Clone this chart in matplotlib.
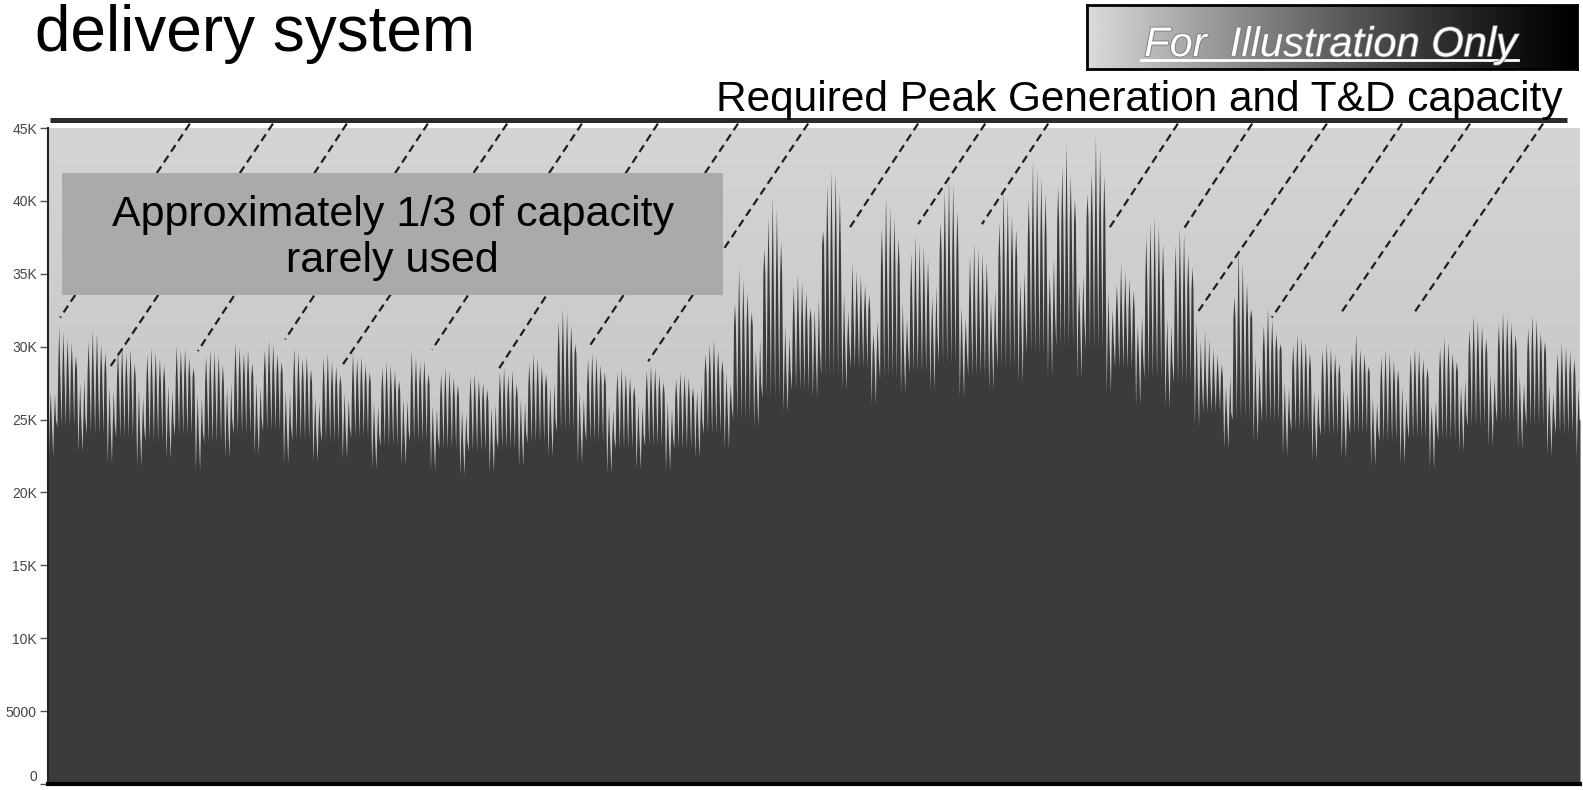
import numpy as np
import matplotlib
matplotlib.use("Agg")
import matplotlib.pyplot as plt
from matplotlib.patches import Rectangle
import matplotlib.patheffects as pe

plt.rcParams['font.family'] = ['Liberation Sans', 'DejaVu Sans']

# daily peak load (thousands), one row per week: 2 weekend days then 5 weekdays
day_peak_k = [
    [27.0, 26.8, 31.4, 31.1, 30.6, 30.3, 29.4],
    [27.5, 27.9, 30.4, 31.2, 31.0, 30.2, 29.6],
    [27.3, 27.0, 29.8, 30.1, 29.6, 29.9, 28.9],
    [27.1, 26.6, 29.5, 30.0, 29.7, 29.2, 28.8],
    [27.4, 27.0, 30.1, 29.8, 29.9, 29.3, 28.6],
    [26.8, 26.5, 29.4, 29.9, 29.7, 29.5, 28.8],
    [27.2, 27.5, 30.3, 30.0, 29.6, 29.8, 28.9],
    [27.6, 27.3, 29.8, 30.5, 30.2, 29.5, 29.0],
    [27.0, 26.9, 30.0, 29.7, 29.2, 29.4, 28.5],
    [26.6, 26.2, 29.3, 29.6, 29.0, 28.7, 28.1],
    [26.9, 26.5, 29.6, 29.2, 29.4, 28.8, 28.3],
    [26.3, 26.0, 28.6, 29.0, 28.8, 28.4, 27.7],
    [26.5, 26.4, 29.8, 29.3, 28.9, 29.1, 28.2],
    [26.0, 25.8, 28.2, 28.6, 28.4, 27.9, 27.4],
    [25.7, 25.5, 28.0, 28.2, 27.8, 27.6, 27.1],
    [25.9, 26.1, 28.3, 28.6, 28.1, 28.4, 27.5],
    [26.4, 26.2, 28.9, 29.6, 29.3, 28.7, 28.2],
    [27.3, 27.6, 31.8, 32.7, 32.4, 31.5, 30.2],
    [27.0, 26.5, 29.2, 29.6, 29.4, 28.8, 28.3],
    [26.1, 25.7, 28.3, 28.6, 28.2, 27.9, 27.3],
    [26.2, 26.0, 28.4, 28.8, 28.6, 28.1, 27.6],
    [26.3, 25.8, 27.8, 28.3, 28.1, 27.9, 27.2],
    [27.0, 27.4, 29.5, 30.2, 30.6, 29.8, 29.1],
    [28.2, 27.5, 33.0, 35.5, 34.6, 33.8, 32.4],
    [29.8, 30.5, 36.8, 38.9, 40.4, 39.5, 37.2],
    [31.5, 30.8, 34.2, 35.0, 34.5, 33.8, 32.7],
    [32.6, 33.4, 38.0, 41.2, 42.1, 42.0, 40.5],
    [33.8, 32.5, 35.8, 35.2, 34.9, 34.3, 33.6],
    [31.0, 31.8, 38.2, 40.4, 39.6, 38.9, 37.5],
    [33.0, 32.0, 36.5, 37.7, 37.2, 36.9, 36.0],
    [33.5, 34.2, 38.6, 40.8, 41.6, 41.2, 39.4],
    [32.8, 32.0, 36.3, 37.2, 36.8, 36.5, 35.9],
    [33.2, 34.0, 38.5, 40.9, 40.3, 39.0, 38.1],
    [34.5, 35.2, 40.1, 42.8, 42.3, 41.7, 40.6],
    [35.0, 36.2, 41.0, 42.5, 44.0, 41.8, 40.2],
    [34.4, 35.0, 40.5, 42.0, 44.5, 43.6, 41.8],
    [33.8, 32.6, 34.3, 35.8, 35.2, 34.7, 33.9],
    [31.5, 32.2, 37.6, 38.6, 39.0, 38.3, 37.1],
    [32.0, 31.5, 37.0, 38.2, 37.8, 36.4, 35.5],
    [31.8, 30.5, 31.2, 30.6, 29.9, 29.5, 28.8],
    [27.3, 28.0, 33.5, 37.0, 35.8, 34.4, 32.6],
    [29.5, 28.8, 31.5, 32.7, 31.9, 31.0, 30.2],
    [27.6, 27.2, 30.2, 31.0, 30.7, 30.4, 29.6],
    [27.0, 26.8, 29.8, 30.3, 30.0, 29.5, 28.9],
    [27.2, 26.9, 29.6, 31.0, 29.9, 29.5, 28.7],
    [26.5, 26.2, 29.4, 29.8, 29.6, 29.1, 28.5],
    [27.3, 26.4, 29.5, 30.0, 29.8, 29.2, 28.6],
    [26.0, 26.3, 30.0, 30.7, 30.4, 29.6, 29.0],
    [27.3, 27.8, 31.2, 32.2, 31.8, 31.5, 30.6],
    [28.2, 27.9, 31.6, 32.4, 32.1, 31.7, 30.9],
    [28.0, 27.5, 31.3, 32.2, 31.9, 31.0, 30.4],
    [27.4, 26.9, 29.6, 30.3, 30.0, 29.7, 29.2],
    [27.2],
]

# daytime shoulder level and night low per week (thousands)
shoulder_weekday = [28.5, 28.3, 27.8, 27.6, 27.9, 27.5, 28.0, 28.2, 27.6, 27.3,
                    27.5, 27.0, 27.4, 26.6, 26.3, 26.6, 27.3, 29.5, 27.4, 26.6,
                    26.8, 26.5, 28.2, 31.5, 35.0, 31.8, 37.0, 32.5, 35.5, 33.5,
                    36.5, 33.2, 36.0, 37.5, 38.5, 38.8, 32.5, 34.5, 34.0, 28.0,
                    32.0, 29.8, 28.5, 28.0, 28.2, 27.5, 27.8, 28.3, 29.5, 29.8,
                    29.6, 28.0, 28.0]
shoulder_weekend = [25.0, 25.2, 24.8, 24.5, 24.9, 24.3, 25.0, 25.1, 24.6, 24.4,
                    24.6, 24.0, 24.3, 23.9, 23.6, 23.8, 24.2, 25.0, 24.5, 23.8,
                    24.0, 23.9, 25.0, 26.0, 27.5, 28.5, 30.0, 30.5, 29.5, 30.0,
                    31.0, 30.0, 30.8, 32.0, 32.5, 32.0, 30.5, 29.5, 29.0, 28.0,
                    25.5, 26.5, 25.2, 24.8, 25.0, 24.4, 24.7, 24.5, 25.5, 26.0,
                    25.8, 25.2, 25.0]
low_weekday = [24.5, 24.0, 23.8, 23.5, 23.9, 23.4, 24.0, 24.2, 23.6, 23.5,
               23.8, 23.2, 23.5, 23.0, 22.8, 23.0, 23.4, 24.2, 23.5, 23.0,
               23.2, 23.0, 24.0, 25.0, 26.5, 27.0, 28.0, 28.5, 27.8, 28.2,
               28.8, 28.0, 28.5, 29.5, 30.0, 29.8, 28.5, 27.8, 27.5, 25.5,
               25.0, 24.8, 24.2, 23.9, 24.0, 23.5, 23.7, 23.6, 24.5, 24.8,
               24.6, 24.0, 24.0]
low_weekend = [22.5, 22.8, 22.0, 21.8, 22.3, 21.5, 22.4, 22.6, 22.0, 22.1,
               22.3, 21.6, 21.9, 21.5, 21.2, 21.4, 21.8, 22.5, 22.0, 21.3,
               21.6, 21.5, 22.4, 23.0, 24.5, 25.5, 26.5, 27.0, 26.0, 26.8,
               27.0, 26.5, 27.0, 27.5, 28.0, 27.8, 26.8, 26.0, 25.8, 24.5,
               23.0, 23.5, 22.5, 22.2, 22.3, 21.8, 22.0, 21.6, 22.8, 23.2,
               23.0, 22.5, 22.4]

# dashed pointer lines: top day on the capacity line, end day and load
pointer_top_day = [33.8, 53.6, 71.2, 90.5, 109.4, 127.2, 145.3, 164.4, 181.1,
                   207.3, 223.3, 238.3, 269.2, 286.9, 304.7, 322.6, 338.8, 356.2]
pointer_end_day = [2.9, 14.3, 35.7, 56.5, 70.3, 91.5, 107.0, 128.7, 143.0,
                   191.1, 207.3, 222.5, 253.0, 270.4, 274.0, 291.6, 307.8, 325.2]
pointer_end_load = [32000, 28400, 29700, 30500, 28800, 29800, 28300, 29900, 29000,
                    38200, 38400, 38400, 38200, 38000, 32400, 32000, 32200, 32200]
capacity_load = 45550

ytick_vals = [0, 5000, 10000, 15000, 20000, 25000, 30000, 35000, 40000, 45000]
ytick_labels = ['0', '5000', '10K', '15K', '20K', '25K', '30K', '35K', '40K', '45K']

# build the load curve: night low, morning shoulder, afternoon peak, evening shoulder
hx, hy = [0.0], [low_weekend[0] * 1000]
for w, week in enumerate(day_peak_k):
    for k, p in enumerate(week):
        d = 7 * w + k
        weekend = k < 2
        sh = shoulder_weekend[w] if weekend else shoulder_weekday[w]
        lo = low_weekend[w] if weekend else low_weekday[w]
        hx += [d + 0.12, d + 0.32, d + 0.55, d + 0.78]
        hy += [lo * 1000, sh * 1000, p * 1000, sh * 1000]
n_days = len(hx) // 4
hx.append(float(n_days))
hy.append(hy[-1])

W, H = 1583, 790
fig = plt.figure(figsize=(W / 100, H / 100), dpi=100)
ax = fig.add_axes([48 / W, 6 / H, (1580 - 48) / W, (784 - 128) / H])

# plot-area background
grad = np.linspace(0.72, 0.83, 200).reshape(-1, 1)
ax.imshow(grad, extent=[0, n_days, 0, 45000], origin='lower', aspect='auto',
          cmap='gray', vmin=0, vmax=1, zorder=0)

ax.fill_between(hx, 0, hy, color='#3b3b3b', lw=0, zorder=2)

for x0, x1, y1 in zip(pointer_top_day, pointer_end_day, pointer_end_load):
    ax.plot([x0, x1], [45300, y1], color='#1e1e1e', lw=1.6,
            ls=(0, (3.6, 2.2)), zorder=3, clip_on=False)

ax.plot([0.5, 361.9], [capacity_load, capacity_load], color='#2a2a2a', lw=3.6,
        solid_capstyle='butt', clip_on=False, zorder=5)

ax.add_patch(Rectangle((0.0091, 0.7458), 0.4315, 0.1857, transform=ax.transAxes,
                       fc='#aaaaaa', ec='none', zorder=4))
ax.text(0.2250, 0.8320, 'Approximately 1/3 of capacity\nrarely used',
        transform=ax.transAxes, ha='center', va='center', fontsize=31,
        linespacing=1.2, color='black', zorder=6)

ax.set_xlim(0, n_days)
ax.set_ylim(0, 45000)
ax.set_xticks([])
ax.set_yticks(ytick_vals)
ax.set_yticklabels(ytick_labels)
ax.tick_params(axis='y', length=6, width=1, color='#555555', labelsize=10,
               labelcolor='#444444', pad=2)
ax.get_yticklabels()[0].set_verticalalignment('bottom')
for s in ['top', 'right']:
    ax.spines[s].set_visible(False)
ax.spines['left'].set_linewidth(1.5)
ax.spines['left'].set_color('#222222')
ax.spines['bottom'].set_linewidth(3)
ax.spines['bottom'].set_color('black')

fig.text(35 / W, 1 - 51 / H, 'delivery system', fontsize=46, ha='left',
         va='baseline', color='black')
fig.text(1563 / W, 1 - 111 / H, 'Required Peak Generation and T&D capacity',
         fontsize=30.5, ha='right', va='baseline', color='black')

# "For Illustration Only" gradient badge
bax = fig.add_axes([1087 / W, 1 - 69 / H, 490 / W, 64 / H])
t = np.linspace(0, 1, 400)
bax.imshow((0.86 * (1 - t) ** 1.2)[None, :], extent=[0, 1, 0, 1], aspect='auto',
           cmap='gray', vmin=0, vmax=1)
bax.set_xlim(0, 1)
bax.set_ylim(0, 1)
bax.set_xticks([])
bax.set_yticks([])
for s in bax.spines.values():
    s.set_linewidth(2)
    s.set_color('black')
bax.text(0.497, 0.2, 'For  Illustration Only', fontsize=30, style='italic',
         ha='center', va='baseline', color='white',
         path_effects=[pe.withStroke(linewidth=1.2, foreground='#777777')])
bax.plot([0.11, 0.88], [0.14, 0.14], color='white', lw=2)

fig.savefig('out.png', dpi=100)
